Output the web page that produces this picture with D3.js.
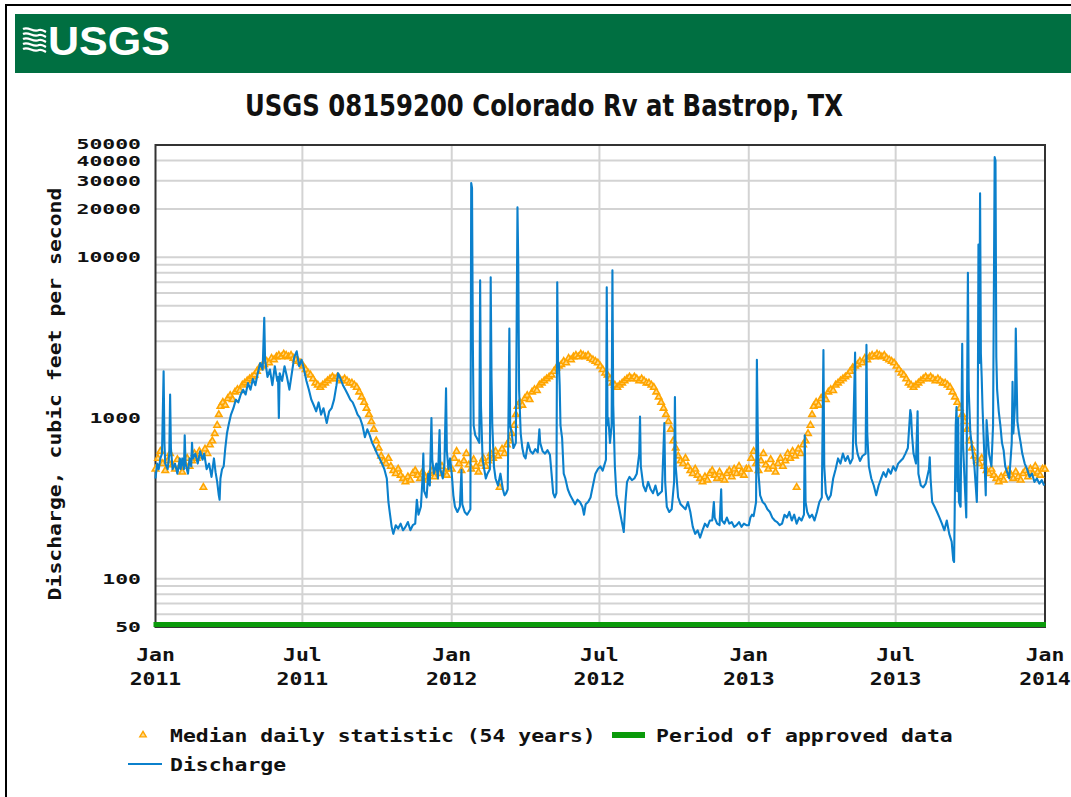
<!DOCTYPE html>
<html><head><meta charset="utf-8">
<script src="https://cdn.jsdelivr.net/npm/d3@7"></script>
<style>
html,body{margin:0;padding:0;background:#fff;}
svg{display:block;}
</style></head>
<body>
<svg id="chart" width="1071" height="797"></svg>
<script>
// ---------------- DATA ----------------
const chartTitle = "USGS 08159200 Colorado Rv at Bastrop, TX";
const yAxisTitle = "Discharge, cubic feet per second";
const yTickValues = [50, 100, 1000, 10000, 20000, 30000, 40000, 50000];
const xTickDates = ["2011-01-01","2011-07-01","2012-01-01","2012-07-01","2013-01-01","2013-07-01","2014-01-01"];
const xTickMonths = ["Jan","Jul","Jan","Jul","Jan","Jul","Jan"];
const xTickYears = ["2011","2011","2012","2012","2013","2013","2014"];
const medianYears = [2011, 2012, 2013];
const legendLabels = ["Median daily statistic (54 years)", "Period of approved data", "Discharge"];
const approvedPeriod = ["2011-01-01", "2014-01-01"];

// Median daily statistic (54 years), by month-day
const medianDaily = [
 ["01-01",480],["01-04",560],["01-07",620],["01-10",520],["01-13",470],["01-16",540],["01-19",600],["01-22",510],["01-25",480],["01-28",550],["01-31",500],
 ["02-03",460],["02-06",520],["02-09",560],["02-12",500],["02-15",540],["02-18",600],["02-21",560],["02-24",620],["02-27",580],["02-29",370],
 ["03-03",640],["03-06",600],["03-09",680],["03-12",720],["03-15",800],["03-18",900],["03-20",1050],["03-22",1180],["03-25",1250],["03-28",1200],["03-31",1320],
 ["04-03",1380],["04-06",1300],["04-09",1450],["04-12",1500],["04-15",1480],["04-18",1600],["04-21",1650],["04-24",1700],["04-27",1750],["04-30",1800],
 ["05-03",1850],["05-06",1950],["05-09",2050],["05-12",2100],["05-15",2150],["05-18",2250],["05-21",2200],["05-24",2350],["05-27",2300],["05-30",2400],
 ["06-02",2450],["06-05",2400],["06-08",2500],["06-11",2450],["06-14",2400],["06-17",2450],["06-20",2350],["06-23",2300],["06-26",2250],["06-29",2200],
 ["07-02",2100],["07-05",2000],["07-08",1900],["07-11",1850],["07-14",1750],["07-17",1650],["07-20",1600],["07-23",1550],["07-26",1600],["07-29",1650],
 ["08-01",1700],["08-04",1750],["08-07",1800],["08-10",1750],["08-13",1800],["08-16",1750],["08-19",1700],["08-22",1750],["08-25",1700],["08-28",1650],["08-31",1650],
 ["09-03",1600],["09-06",1550],["09-09",1450],["09-12",1350],["09-15",1250],["09-18",1150],["09-21",1050],["09-24",950],["09-27",850],["09-30",720],
 ["10-03",650],["10-06",580],["10-09",540],["10-12",520],["10-15",560],["10-18",500],["10-21",470],["10-24",450],["10-27",480],["10-30",440],
 ["11-02",420],["11-05",400],["11-08",430],["11-11",410],["11-14",450],["11-17",470],["11-20",440],["11-23",420],["11-26",460],["11-29",430],
 ["12-02",410],["12-05",450],["12-08",470],["12-11",430],["12-14",480],["12-17",450],["12-20",500],["12-23",460],["12-26",440],["12-29",480]
];
const medianExtra = [["2014-01-01",480]];

// Discharge, cubic feet per second
const discharge = [
 ["2011-01-01",420],["2011-01-03",520],["2011-01-05",480],["2011-01-07",560],["2011-01-09",600],["2011-01-11",1950],["2011-01-12",700],["2011-01-13",520],
 ["2011-01-16",480],["2011-01-18",600],["2011-01-19",1400],["2011-01-20",650],["2011-01-22",480],["2011-01-25",520],["2011-01-28",450],["2011-01-31",560],
 ["2011-02-01",480],["2011-02-03",560],["2011-02-05",480],["2011-02-06",780],["2011-02-07",520],["2011-02-10",450],["2011-02-12",560],["2011-02-14",500],
 ["2011-02-15",700],["2011-02-16",560],["2011-02-19",600],["2011-02-22",520],["2011-02-25",620],["2011-02-28",550],
 ["2011-03-02",600],["2011-03-05",480],["2011-03-08",520],["2011-03-11",430],["2011-03-14",560],["2011-03-16",460],["2011-03-18",400],["2011-03-20",330],
 ["2011-03-21",310],["2011-03-22",420],["2011-03-24",480],["2011-03-26",500],["2011-03-28",650],["2011-03-30",800],
 ["2011-04-01",900],["2011-04-04",1050],["2011-04-07",1150],["2011-04-10",1300],["2011-04-13",1250],["2011-04-16",1400],["2011-04-19",1500],["2011-04-22",1400],
 ["2011-04-25",1650],["2011-04-28",1500],["2011-05-01",1750],["2011-05-04",1600],["2011-05-07",1900],["2011-05-10",2200],["2011-05-13",2000],["2011-05-15",4200],
 ["2011-05-16",2300],["2011-05-19",1800],["2011-05-22",2000],["2011-05-25",1600],["2011-05-28",2100],["2011-05-31",1700],["2011-06-01",1800],["2011-06-02",1000],
 ["2011-06-03",1900],["2011-06-06",1700],["2011-06-09",2100],["2011-06-12",1800],["2011-06-15",1500],["2011-06-18",1900],["2011-06-21",2400],["2011-06-24",2600],
 ["2011-06-27",2100],["2011-06-30",2300],["2011-07-03",2000],["2011-07-06",1700],["2011-07-09",1500],["2011-07-12",1300],["2011-07-15",1200],["2011-07-18",1100],
 ["2011-07-21",1250],["2011-07-24",1050],["2011-07-27",1150],["2011-07-31",930],["2011-08-03",1100],["2011-08-06",1150],["2011-08-09",1300],["2011-08-12",1600],
 ["2011-08-14",1900],["2011-08-17",1750],["2011-08-20",1600],["2011-08-23",1500],["2011-08-26",1400],["2011-08-29",1300],["2011-09-01",1250],["2011-09-04",1150],
 ["2011-09-07",1050],["2011-09-10",1000],["2011-09-13",900],["2011-09-16",760],["2011-09-19",850],["2011-09-22",780],["2011-09-25",700],["2011-09-28",650],
 ["2011-10-01",600],["2011-10-04",560],["2011-10-07",520],["2011-10-10",480],["2011-10-13",420],["2011-10-15",300],["2011-10-17",250],["2011-10-19",210],
 ["2011-10-21",190],["2011-10-24",215],["2011-10-27",205],["2011-10-30",220],["2011-11-02",200],["2011-11-05",210],["2011-11-08",225],["2011-11-11",200],
 ["2011-11-14",215],["2011-11-17",220],["2011-11-19",310],["2011-11-21",250],["2011-11-24",280],["2011-11-26",420],["2011-11-27",600],["2011-11-28",350],
 ["2011-12-01",320],["2011-12-03",450],["2011-12-05",380],["2011-12-07",1000],["2011-12-08",550],["2011-12-10",450],["2011-12-13",520],["2011-12-15",420],
 ["2011-12-17",840],["2011-12-18",480],["2011-12-21",420],["2011-12-23",520],["2011-12-25",1530],["2011-12-26",620],["2011-12-28",480],["2011-12-30",560],
 ["2012-01-01",450],["2012-01-03",330],["2012-01-05",280],["2012-01-08",260],["2012-01-11",280],["2012-01-13",475],["2012-01-14",290],["2012-01-17",260],
 ["2012-01-20",250],["2012-01-24",270],["2012-01-25",29000],["2012-01-26",27000],["2012-01-27",3000],["2012-01-28",900],["2012-01-30",780],["2012-02-01",750],
 ["2012-02-04",700],["2012-02-05",7200],["2012-02-06",1200],["2012-02-08",560],["2012-02-10",480],["2012-02-12",420],["2012-02-14",450],["2012-02-17",480],
 ["2012-02-18",7500],["2012-02-19",1800],["2012-02-20",900],["2012-02-22",500],["2012-02-24",420],["2012-02-27",380],["2012-03-01",450],["2012-03-04",360],
 ["2012-03-06",330],["2012-03-08",340],["2012-03-10",360],["2012-03-12",3600],["2012-03-13",900],["2012-03-15",800],["2012-03-17",650],["2012-03-20",700],
 ["2012-03-22",20500],["2012-03-23",9000],["2012-03-24",1500],["2012-03-26",800],["2012-03-28",650],["2012-03-30",580],["2012-04-01",560],["2012-04-04",700],
 ["2012-04-07",620],["2012-04-10",600],["2012-04-13",640],["2012-04-16",610],["2012-04-18",850],["2012-04-19",700],["2012-04-22",620],["2012-04-25",600],
 ["2012-04-28",630],["2012-05-01",590],["2012-05-03",450],["2012-05-05",340],["2012-05-07",320],["2012-05-09",340],["2012-05-10",7000],["2012-05-11",2200],
 ["2012-05-12",2200],["2012-05-13",1600],["2012-05-14",900],["2012-05-16",750],["2012-05-18",450],["2012-05-20",420],["2012-05-23",360],["2012-05-26",330],
 ["2012-05-29",310],["2012-06-01",290],["2012-06-04",310],["2012-06-07",300],["2012-06-10",280],["2012-06-12",250],["2012-06-14",290],["2012-06-17",300],
 ["2012-06-20",320],["2012-06-23",380],["2012-06-26",450],["2012-06-29",480],["2012-07-02",500],["2012-07-05",470],["2012-07-09",550],["2012-07-10",6500],
 ["2012-07-11",900],["2012-07-12",1000],["2012-07-14",700],["2012-07-16",900],["2012-07-17",8300],["2012-07-18",1200],["2012-07-20",500],["2012-07-22",330],
 ["2012-07-25",280],["2012-07-29",220],["2012-07-31",195],["2012-08-02",300],["2012-08-04",400],["2012-08-07",430],["2012-08-10",410],["2012-08-13",420],
 ["2012-08-16",450],["2012-08-19",600],["2012-08-20",1020],["2012-08-21",500],["2012-08-24",380],["2012-08-27",350],["2012-08-30",400],["2012-09-02",360],
 ["2012-09-05",340],["2012-09-08",380],["2012-09-11",330],["2012-09-16",350],["2012-09-19",930],["2012-09-20",400],["2012-09-22",280],["2012-09-25",260],
 ["2012-09-28",270],["2012-10-01",400],["2012-10-02",1350],["2012-10-03",500],["2012-10-06",320],["2012-10-09",290],["2012-10-12",280],["2012-10-15",270],
 ["2012-10-18",300],["2012-10-21",260],["2012-10-24",210],["2012-10-27",190],["2012-10-30",200],["2012-11-02",180],["2012-11-05",200],["2012-11-08",220],
 ["2012-11-11",210],["2012-11-14",230],["2012-11-17",230],["2012-11-19",300],["2012-11-20",240],["2012-11-23",220],["2012-11-26",215],["2012-11-28",360],
 ["2012-11-29",230],["2012-12-02",220],["2012-12-05",240],["2012-12-08",220],["2012-12-11",225],["2012-12-14",210],["2012-12-17",215],["2012-12-20",225],
 ["2012-12-23",210],["2012-12-26",220],["2012-12-29",215],
 ["2013-01-01",215],["2013-01-03",240],["2013-01-05",250],["2013-01-07",245],["2013-01-10",300],["2013-01-11",2300],["2013-01-12",900],["2013-01-13",450],
 ["2013-01-15",330],["2013-01-18",300],["2013-01-21",290],["2013-01-24",270],["2013-01-27",260],["2013-01-30",240],["2013-02-02",230],["2013-02-05",225],
 ["2013-02-08",215],["2013-02-11",220],["2013-02-14",250],["2013-02-17",240],["2013-02-20",260],["2013-02-23",230],["2013-02-26",250],["2013-03-01",220],
 ["2013-03-04",240],["2013-03-07",230],["2013-03-10",250],["2013-03-11",780],["2013-03-12",300],["2013-03-14",260],["2013-03-17",240],["2013-03-20",250],
 ["2013-03-23",230],["2013-03-26",260],["2013-03-29",300],["2013-04-01",320],["2013-04-03",2650],["2013-04-04",500],["2013-04-06",340],["2013-04-09",310],
 ["2013-04-12",330],["2013-04-15",420],["2013-04-18",480],["2013-04-21",560],["2013-04-24",520],["2013-04-27",600],["2013-04-30",540],["2013-05-03",580],
 ["2013-05-06",520],["2013-05-09",560],["2013-05-12",2550],["2013-05-13",700],["2013-05-15",600],["2013-05-18",540],["2013-05-21",580],["2013-05-25",600],
 ["2013-05-26",2850],["2013-05-27",800],["2013-05-29",500],["2013-06-01",420],["2013-06-04",380],["2013-06-07",330],["2013-06-10",380],["2013-06-13",420],
 ["2013-06-16",460],["2013-06-19",430],["2013-06-22",480],["2013-06-25",450],["2013-06-28",500],["2013-07-01",470],["2013-07-04",520],["2013-07-07",540],
 ["2013-07-10",560],["2013-07-13",600],["2013-07-16",650],["2013-07-19",1120],["2013-07-20",1050],["2013-07-21",800],["2013-07-23",600],["2013-07-26",520],
 ["2013-07-28",1100],["2013-07-29",450],["2013-08-01",380],["2013-08-04",370],["2013-08-07",390],["2013-08-11",480],["2013-08-12",570],["2013-08-13",420],
 ["2013-08-15",300],["2013-08-18",280],["2013-08-21",260],["2013-08-24",240],["2013-08-27",220],["2013-08-30",200],["2013-09-02",230],["2013-09-05",190],
 ["2013-09-08",170],["2013-09-10",130],["2013-09-11",127],["2013-09-13",900],["2013-09-14",1170],["2013-09-15",350],["2013-09-16",1000],["2013-09-17",300],
 ["2013-09-19",280],["2013-09-21",2900],["2013-09-22",700],["2013-09-24",400],["2013-09-26",240],["2013-09-28",8000],["2013-09-29",1500],["2013-10-01",810],
 ["2013-10-04",600],["2013-10-06",500],["2013-10-09",300],["2013-10-10",600],["2013-10-11",12000],["2013-10-12",2200],["2013-10-13",25000],["2013-10-14",2500],
 ["2013-10-15",1800],["2013-10-16",1170],["2013-10-18",630],["2013-10-20",330],["2013-10-21",970],["2013-10-24",600],["2013-10-27",500],["2013-10-29",900],
 ["2013-10-31",42000],["2013-11-01",40000],["2013-11-02",2400],["2013-11-03",1500],["2013-11-05",1100],["2013-11-07",900],["2013-11-09",700],["2013-11-11",630],
 ["2013-11-13",500],["2013-11-16",450],["2013-11-18",420],["2013-11-21",700],["2013-11-22",1680],["2013-11-23",800],["2013-11-25",1200],["2013-11-26",3600],
 ["2013-11-27",1800],["2013-11-28",950],["2013-11-30",800],["2013-12-02",700],["2013-12-04",600],["2013-12-07",520],["2013-12-10",480],["2013-12-13",430],
 ["2013-12-16",450],["2013-12-19",400],["2013-12-22",420],["2013-12-25",390],["2013-12-28",410],["2013-12-31",380]
];

// ---------------- DRAW ----------------
const parse = d3.timeParse("%Y-%m-%d");
const svg = d3.select("#chart");
const monoFont = "'DejaVu Sans Mono', 'Liberation Mono', monospace";
const charW = 12.9;

const x = d3.scaleTime().domain([parse("2011-01-01"), parse("2014-01-01")]).range([155.5, 1045]);
const y = d3.scaleLog().domain([50, 50000]).range([627, 145]);

// outer frame
svg.append("path").attr("d","M6,797 L6,5 L1071,5").attr("fill","none").attr("stroke","#000").attr("stroke-width",2);

// banner
svg.append("rect").attr("x",15).attr("y",14).attr("width",1060).attr("height",59).attr("fill","#006f41");
const logo = svg.append("g");
for (let i = 0; i < 5; i++) {
  const oy = 29 + i * 5;
  logo.append("path")
    .attr("d", `M23,${oy} C29,${oy-3} 33,${oy+4} 39,${oy+1} C42,${oy} 44,${oy+2} 46,${oy+3}`)
    .attr("fill","none").attr("stroke","#fff").attr("stroke-width",2.2);
}
logo.append("text").attr("x",48).attr("y",55).text("USGS")
  .attr("font-family","'Liberation Sans Narrow','Liberation Sans',Arial,sans-serif")
  .attr("font-weight","bold").attr("font-size",41).attr("fill","#fff")
  .attr("textLength",122).attr("lengthAdjust","spacingAndGlyphs");

// title
svg.append("text").attr("x",544).attr("y",116).attr("text-anchor","middle").text(chartTitle)
  .attr("font-family","'Liberation Sans Narrow','DejaVu Sans Condensed','Liberation Sans',sans-serif")
  .attr("font-weight","bold").attr("font-size",31).attr("fill","#111")
  .attr("textLength",598).attr("lengthAdjust","spacingAndGlyphs");

// horizontal grid (log minor lines)
const hgrid = [];
for (let dec = 10; dec <= 10000; dec *= 10) for (let k = 1; k <= 9; k++) { const v = k*dec; if (v > 50 && v < 50000) hgrid.push(v); }
svg.append("g").selectAll("line").data(hgrid).join("line")
  .attr("x1",155.5).attr("x2",1045).attr("y1",d=>y(d)).attr("y2",d=>y(d))
  .attr("stroke","#d3d3d3").attr("stroke-width",2);
// vertical grid
svg.append("g").selectAll("line").data(xTickDates.slice(1,-1)).join("line")
  .attr("x1",d=>x(parse(d))).attr("x2",d=>x(parse(d))).attr("y1",145).attr("y2",627)
  .attr("stroke","#d3d3d3").attr("stroke-width",2);

// frame
svg.append("rect").attr("x",155.5).attr("y",145).attr("width",1045-155.5).attr("height",627-145)
  .attr("fill","none").attr("stroke","#333").attr("stroke-width",2);

// median triangles
const tri = d3.symbol().type(d3.symbolTriangle).size(18);
const medianPts = [];
medianYears.forEach(yr => medianDaily.forEach(([md, v]) => medianPts.push([parse(yr + "-" + md) || new Date(yr, +md.slice(0,2)-1, +md.slice(3)), v])));
medianExtra.forEach(([d, v]) => medianPts.push([parse(d), v]));
svg.append("g").selectAll("path").data(medianPts).join("path")
  .attr("d", tri).attr("transform", d => `translate(${x(d[0])},${y(d[1])})`)
  .attr("fill","#ffd98a").attr("stroke","#ffa500").attr("stroke-width",1.6);

// discharge line
const line = d3.line().x(d=>x(parse(d[0]))).y(d=>y(d[1]));
svg.append("path").datum(discharge).attr("d", line)
  .attr("fill","none").attr("stroke","#0b80cc").attr("stroke-width",2.1).attr("stroke-linejoin","round");

// approved period bar
svg.append("line").attr("x1",x(parse(approvedPeriod[0]))-2).attr("x2",x(parse(approvedPeriod[1]))+1)
  .attr("y1",624.5).attr("y2",624.5).attr("stroke","#0a9a0a").attr("stroke-width",5);

// text helper
function monoText(g, str, xx, yy, anchor, fs) {
  return g.append("text").attr("x",xx).attr("y",yy).attr("text-anchor",anchor||"start").text(str)
    .attr("font-family",monoFont).attr("font-weight","bold").attr("font-size",fs||18).attr("fill","#111")
    .attr("textLength", str.length*charW).attr("lengthAdjust","spacingAndGlyphs");
}

// y ticks
const yt = svg.append("g");
yTickValues.forEach(v => monoText(yt, String(v), 141, y(v) + (v === 50000 ? 4 : 5), "end", 14));

// x ticks
const xt = svg.append("g");
xTickDates.forEach((d,i) => {
  const px = x(parse(d));
  monoText(xt, xTickMonths[i], px, 661, "middle");
  monoText(xt, xTickYears[i], px, 685, "middle");
});

// y axis title
const yTitle = svg.append("g").attr("transform","translate(61,394) rotate(-90)");
monoText(yTitle, yAxisTitle, 0, 0, "middle");

// legend
const lg = svg.append("g");
lg.append("path").attr("d", tri).attr("transform","translate(143,735)")
  .attr("fill","#ffd98a").attr("stroke","#ffa500").attr("stroke-width",1.4);
monoText(lg, legendLabels[0], 170, 742);
lg.append("rect").attr("x",612).attr("y",732).attr("width",33).attr("height",6).attr("fill","#0a9a0a");
monoText(lg, legendLabels[1], 656, 742);
lg.append("line").attr("x1",128).attr("x2",162).attr("y1",764).attr("y2",764).attr("stroke","#0b80cc").attr("stroke-width",2);
monoText(lg, legendLabels[2], 170, 771);
</script>
</body></html>
